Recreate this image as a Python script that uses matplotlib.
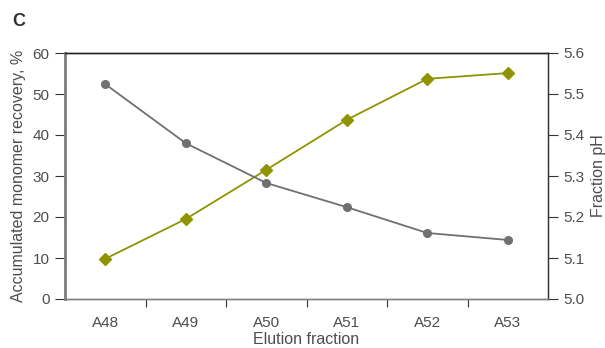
import matplotlib
matplotlib.use("Agg")
import matplotlib.pyplot as plt
from matplotlib.ticker import FixedLocator

fractions = ["A48", "A49", "A50", "A51", "A52", "A53"]
recovery = [9.8, 19.5, 31.5, 43.7, 53.7, 55.1]
ph = [5.524, 5.380, 5.283, 5.224, 5.161, 5.144]
left_ticks = [0, 10, 20, 30, 40, 50, 60]
right_ticks = [5.0, 5.1, 5.2, 5.3, 5.4, 5.5, 5.6]

plt.rcParams['font.family'] = ['Liberation Sans', 'DejaVu Sans']
txt = '#4d4d4d'
gray = '#707070'
olive = '#8f9300'

fig = plt.figure(figsize=(6.05, 3.48), dpi=100)
ax = fig.add_axes([65/605, 1-299/348, (548-65)/605, (299-53)/348])
ax2 = ax.twinx()

x = list(range(len(fractions)))
ax.plot(x, recovery, color=olive, marker='D', markersize=6, linewidth=1.3, zorder=3)
ax2.plot(x, ph, color=gray, marker='o', markersize=5.5, linewidth=1.3, zorder=3)

ax.set_xlim(-0.5, 5.5)
ax.set_ylim(0, 60)
ax2.set_ylim(5.0, 5.6)
ax.set_yticks(left_ticks)
ax2.set_yticks(right_ticks)
ax2.set_yticklabels([f"{v:.1f}" for v in right_ticks])
ax.set_xticks(x)
ax.set_xticklabels(fractions)
ax.xaxis.set_minor_locator(FixedLocator([0.5, 1.5, 2.5, 3.5, 4.5]))
ax.tick_params(axis='x', which='major', length=0, pad=12, labelsize=11, colors=txt)
ax.tick_params(axis='x', which='minor', length=6, width=0.8, color='#333333')
ax.tick_params(axis='y', length=7, width=0.8, color='#333333', labelsize=11, labelcolor=txt, pad=4)
ax2.tick_params(axis='y', length=7, width=0.8, color='#333333', labelsize=11, labelcolor=txt, pad=4)

for a in (ax, ax2):
    a.spines['top'].set_color('#222222')
    a.spines['top'].set_linewidth(1.0)
    a.spines['left'].set_color('#808080')
    a.spines['left'].set_linewidth(1.8)
    a.spines['bottom'].set_color('#808080')
    a.spines['bottom'].set_linewidth(1.0)
    a.spines['right'].set_color('#333333')
    a.spines['right'].set_linewidth(0.9)

ax.set_xlabel("Elution fraction", fontsize=11.5, color=txt, labelpad=1.5)
ax.set_ylabel("Accumulated monomer recovery, %", fontsize=11.5, color=txt, labelpad=5)
ax2.set_ylabel("Fraction pH", fontsize=11.5, color=txt, labelpad=5)

fig.text(12/605, 1-22/348, "C", fontsize=13, fontweight='bold', color='#333333', va='center')

fig.savefig("out.png", dpi=100)
